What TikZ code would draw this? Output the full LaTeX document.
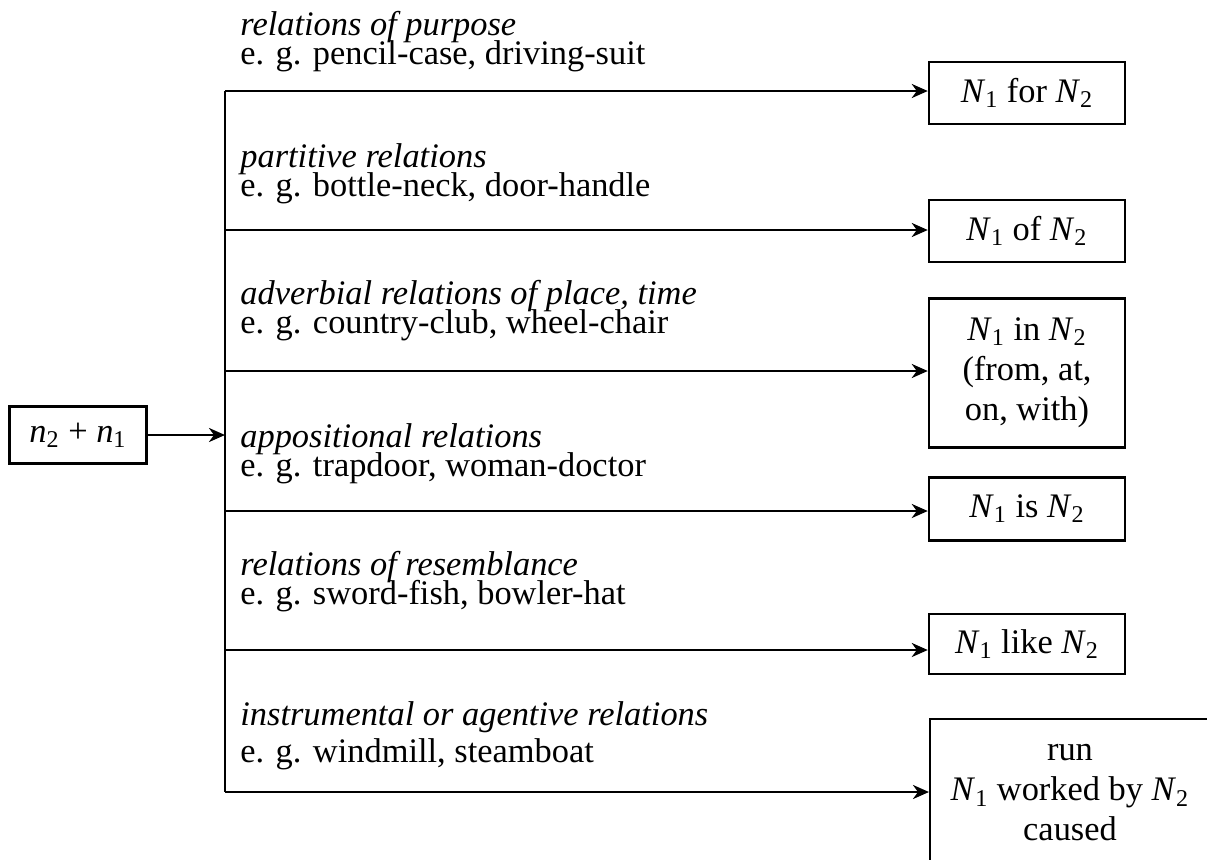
\documentclass[tikz,border=0pt]{standalone}
\usepackage{fontspec}
\setmainfont{Liberation Serif}
\usetikzlibrary{arrows.meta,positioning}
\newcommand{\Nsub}[1]{\textit{N}\textsubscript{#1}}
\newcommand{\nsub}[1]{\textit{n}\textsubscript{#1}}
\newcommand{\tightlines}{\lineskiplimit=-100pt\relax}
\tikzset{
  px/.style={x=0.5pt, y=-0.5pt},
  res/.style={draw, line width=1.2pt, minimum width=98pt, inner sep=0pt, align=center},
  relbox/.style={anchor=base west, inner sep=0pt, align=left,
    font=\fontsize{17.2}{14.5}\selectfont\tightlines},
  stem/.style={line width=1.3pt},
  arr/.style={stem, -{Stealth[length=8pt, width=7pt, inset=2.5pt]}}
}
\begin{document}
\begin{tikzpicture}[px, font=\fontsize{17.2}{20}\selectfont]
\clip (0,0) rectangle (1207,859);
% compound and junctions on the stem
\node[res, minimum width=68.5pt, minimum height=28.5pt] (src) at (78,435) {\nsub{2} + \nsub{1}};
\coordinate (hub) at (225,435);
\coordinate (j1) at (225,91);
\coordinate (j2) at (225,230);
\coordinate (j3) at (225,371);
\coordinate (j4) at (225,511);
\coordinate (j5) at (225,650);
\coordinate (j6) at (225,792);
% paraphrase boxes
\node[res, minimum height=31pt] (fr) at (1027,93) {\Nsub{1} for \Nsub{2}};
\node[res, minimum height=31pt] (of) at (1027,231) {\Nsub{1} of \Nsub{2}};
\node[res, minimum height=74.5pt] (in) at (1027,373) {\Nsub{1} in \Nsub{2}\\(from, at,\\on, with)};
\node[res, minimum height=31.5pt] (is) at (1027,509) {\Nsub{1} is \Nsub{2}};
\node[res, minimum height=30pt] (like) at (1027,644) {\Nsub{1} like \Nsub{2}};
\node[res, anchor=north west, minimum width=141pt, minimum height=81pt] (by) at (929,718) {};
\node[align=center] (bytxt) at (1070,793) {run\\\Nsub{1} worked by \Nsub{2}\\caused};
% relation labels
\node[relbox] (r1) at (240,64) {\textit{relations of purpose}\\e. g. pencil-case, driving-suit};
\node[relbox] (r2) at (240,196) {\textit{partitive relations}\\e. g. bottle-neck, door-handle};
\node[relbox] (r3) at (240,333) {\textit{adverbial relations of place, time}\\e. g. country-club, wheel-chair};
\node[relbox] (r4) at (240,476) {\textit{appositional relations}\\e. g. trapdoor, woman-doctor};
\node[relbox] (r5) at (240,604) {\textit{relations of resemblance}\\e. g. sword-fish, bowler-hat};
\node[relbox, font=\fontsize{17.2}{18.5}\selectfont] (r6) at (240,762) {\textit{instrumental or agentive relations}\\e. g. windmill, steamboat};
% connectors
\draw[arr] (src) -- (hub);
\draw[stem] (j1) -- (j6);
\draw[arr] (j1) -- (j1 -| fr.west);
\draw[arr] (j2) -- (j2 -| of.west);
\draw[arr] (j3) -- (j3 -| in.west);
\draw[arr] (j4) -- (j4 -| is.west);
\draw[arr] (j5) -- (j5 -| like.west);
\draw[arr] (j6) -- (j6 -| by.west);
\end{tikzpicture}
\end{document}
